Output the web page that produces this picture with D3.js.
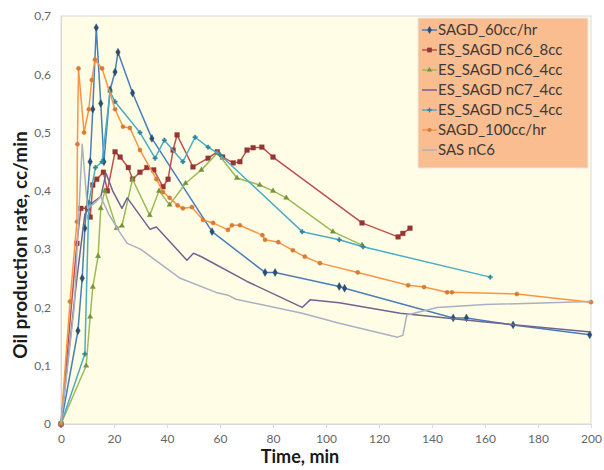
<!DOCTYPE html>
<html><head><meta charset="utf-8">
<script src="https://cdn.jsdelivr.net/npm/d3@7"></script>
<style>body{margin:0;background:#fff}svg{display:block}</style>
</head><body>
<svg id="c" width="604" height="470"></svg>
<script>
// ---- data ----
const xTicks = [0,20,40,60,80,100,120,140,160,180,200];
const yTicks = [0,0.1,0.2,0.3,0.4,0.5,0.6,0.7];
const yTickLabels = ["0","0,1","0,2","0,3","0,4","0,5","0,6","0,7"];
const seriesNames = ["SAGD_60cc/hr","ES_SAGD nC6_8cc","ES_SAGD nC6_4cc","ES_SAGD nC7_4cc","ES_SAGD nC5_4cc","SAGD_100cc/hr","SAS nC6"];

const sagd60T = [0,6.4,8,9,11,12,13.3,15,16.2,18.5,20.4,21.5,27,34.3,57,77,80.8,105,107,148,153,170.6,199.5];
const sagd60V = [0,0.16,0.25,0.336,0.45,0.54,0.68,0.55,0.45,0.573,0.604,0.638,0.568,0.49,0.33,0.26,0.26,0.236,0.233,0.182,0.182,0.17,0.153];

const nc6_8T = [0,6,7.5,10,11,12,13.5,16,17.5,20.4,22.3,25.4,27,29.8,32.4,35,38.5,40.4,42.3,43.8,49.8,55.5,59,61,65,67.5,70.2,72.5,75.8,80,113.6,127.2,129,131.7];
const nc6_8V = [0,0.31,0.37,0.37,0.355,0.41,0.42,0.432,0.40,0.467,0.458,0.44,0.42,0.432,0.44,0.436,0.407,0.42,0.47,0.496,0.441,0.456,0.467,0.458,0.448,0.45,0.47,0.474,0.475,0.458,0.345,0.321,0.327,0.336];

const nc6_4T = [0,9.5,11,12,14,15,16.5,21,23,27,33.5,37,41,47,53,59,66.4,75,80,85,102.6,113.6];
const nc6_4V = [0,0.10,0.184,0.235,0.288,0.37,0.40,0.336,0.34,0.42,0.358,0.40,0.376,0.413,0.436,0.465,0.422,0.41,0.40,0.388,0.33,0.307];

const nc7T = [0,6,9,12,15,17,19.5,23,25,33.6,36,47.5,50,53,70,91,94,105,128,160,200];
const nc7V = [0,0.25,0.36,0.38,0.39,0.43,0.40,0.37,0.388,0.334,0.338,0.281,0.293,0.287,0.245,0.20,0.213,0.208,0.19,0.175,0.158];

const nc5T = [0,9,10.5,13,15.5,18.5,20.4,29.8,35.5,39,46,50.6,55.5,60,91,105,114,162];
const nc5V = [0,0.12,0.38,0.44,0.45,0.57,0.553,0.50,0.456,0.487,0.45,0.492,0.475,0.462,0.33,0.316,0.304,0.252];

const sagd100T = [0,3.4,6,6.2,6.6,8.7,10.5,11.6,12.8,15.5,20.4,23.4,26,29.8,36,38.5,41,44,46,49.4,53.6,57.4,63,64.5,67.5,76,77,82,87.5,92,97.7,112,131,137,145.7,147.5,172,200];
const sagd100V = [0,0.21,0.347,0.48,0.61,0.50,0.54,0.59,0.625,0.61,0.54,0.51,0.508,0.47,0.42,0.398,0.388,0.375,0.37,0.372,0.35,0.345,0.333,0.341,0.341,0.324,0.316,0.312,0.298,0.287,0.276,0.26,0.238,0.235,0.226,0.226,0.223,0.209];

const sasT = [0,5,8,10,13,15,18,22,25,30,36,45,59,63,66,91,105,127,129,130.5,142,160,200];
const sasV = [0,0.2,0.48,0.37,0.38,0.39,0.36,0.33,0.31,0.30,0.28,0.25,0.225,0.221,0.214,0.19,0.173,0.149,0.152,0.187,0.2,0.205,0.21];

// ---- build ----
const series = [
  {name:seriesNames[0], t:sagd60T, v:sagd60V, color:"#4a7ebb", mcol:"#2c4d75", shape:"diamond", area:18},
  {name:seriesNames[1], t:nc6_8T,  v:nc6_8V,  color:"#c0504d", mcol:"#943634", shape:"square", area:22},
  {name:seriesNames[2], t:nc6_4T,  v:nc6_4V,  color:"#9bbb59", mcol:"#76923c", shape:"triangle", area:12},
  {name:seriesNames[3], t:nc7T,    v:nc7V,    color:"#6e6590", mcol:null, shape:null, area:0},
  {name:seriesNames[4], t:nc5T,    v:nc5V,    color:"#4bacc6", mcol:"#31859c", shape:"cross", area:11},
  {name:seriesNames[5], t:sagd100T,v:sagd100V,color:"#f79646", mcol:"#d97a35", shape:"circle", area:14},
  {name:seriesNames[6], t:sasT,    v:sasV,    color:"#aab0c4", mcol:null, shape:null, area:0}
];

const svg = d3.select("#c");
const x = d3.scaleLinear().domain([0,200]).range([61,591]);
const y = d3.scaleLinear().domain([0,0.7]).range([424,16]);

svg.append("rect").attr("x",61).attr("y",16).attr("width",530).attr("height",408)
  .attr("fill","#fffde6").attr("stroke","#d9d9d9").attr("stroke-width",1);

// axes
const xAxis = svg.append("g").attr("transform","translate(0,424)")
  .call(d3.axisBottom(x).tickValues(xTicks).tickSize(4).tickPadding(6).tickFormat(d3.format("d")));
const yAxis = svg.append("g").attr("transform","translate(61,0)")
  .call(d3.axisLeft(y).tickValues(yTicks).tickSize(0).tickPadding(10).tickFormat((d,i)=>yTickLabels[i]));
[xAxis,yAxis].forEach(g=>{
  g.select(".domain").attr("stroke","#d9d9d9");
  g.selectAll(".tick line").attr("stroke","#d9d9d9");
  g.selectAll("text").attr("fill","#666").style("font-family","Lato, 'Open Sans', sans-serif").style("font-size","12px");
});

const line = d3.line().x(d=>x(d[0])).y(d=>y(d[1]));
const sym = {diamond:d3.symbolDiamond, square:d3.symbolSquare, triangle:d3.symbolTriangle, cross:d3.symbolCross, circle:d3.symbolCircle};

series.forEach(s=>{
  const pts = s.t.map((t,i)=>[t,s.v[i]]);
  svg.append("path").datum(pts).attr("d",line).attr("fill","none")
    .attr("stroke",s.color).attr("stroke-width",1.5).attr("stroke-linejoin","round");
  if(s.shape){
    svg.append("g").selectAll("path").data(pts).join("path")
      .attr("transform",d=>`translate(${x(d[0])},${y(d[1])})`)
      .attr("d",d3.symbol().type(sym[s.shape]).size(s.area))
      .attr("fill",s.mcol).attr("stroke",s.mcol).attr("stroke-width",0.4);
  }
});

// axis titles
svg.append("text").attr("x",300).attr("y",463).attr("text-anchor","middle")
  .style("font-family","Lato, 'Open Sans', sans-serif").style("font-weight","bold").style("font-size","18px")
  .attr("fill","#1a1a1a").text("Time, min");
svg.append("text").attr("transform","translate(27,245) rotate(-90)").attr("text-anchor","middle")
  .style("font-family","Lato, 'Open Sans', sans-serif").style("font-weight","bold").style("font-size","19px")
  .attr("fill","#1a1a1a").text("Oil production rate, cc/min");

// legend
const lg = svg.append("g");
lg.append("rect").attr("x",418).attr("y",18).attr("width",170).attr("height",150)
  .attr("fill","#f9bd8f").attr("stroke","#e8e8e8");
series.forEach((s,i)=>{
  const yy = 30 + i*20;
  lg.append("line").attr("x1",422).attr("x2",437).attr("y1",yy).attr("y2",yy)
    .attr("stroke",s.color).attr("stroke-width",1.5);
  if(s.shape){
    lg.append("path").attr("transform",`translate(429.5,${yy})`)
      .attr("d",d3.symbol().type(sym[s.shape]).size(s.area)).attr("fill",s.mcol);
  }
  lg.append("text").attr("x",438).attr("y",yy).attr("dy","0.35em")
    .style("font-family","Lato, 'Open Sans', sans-serif").style("font-size","15px")
    .attr("fill","#3a3a3a").text(s.name);
});
</script>
</body></html>
